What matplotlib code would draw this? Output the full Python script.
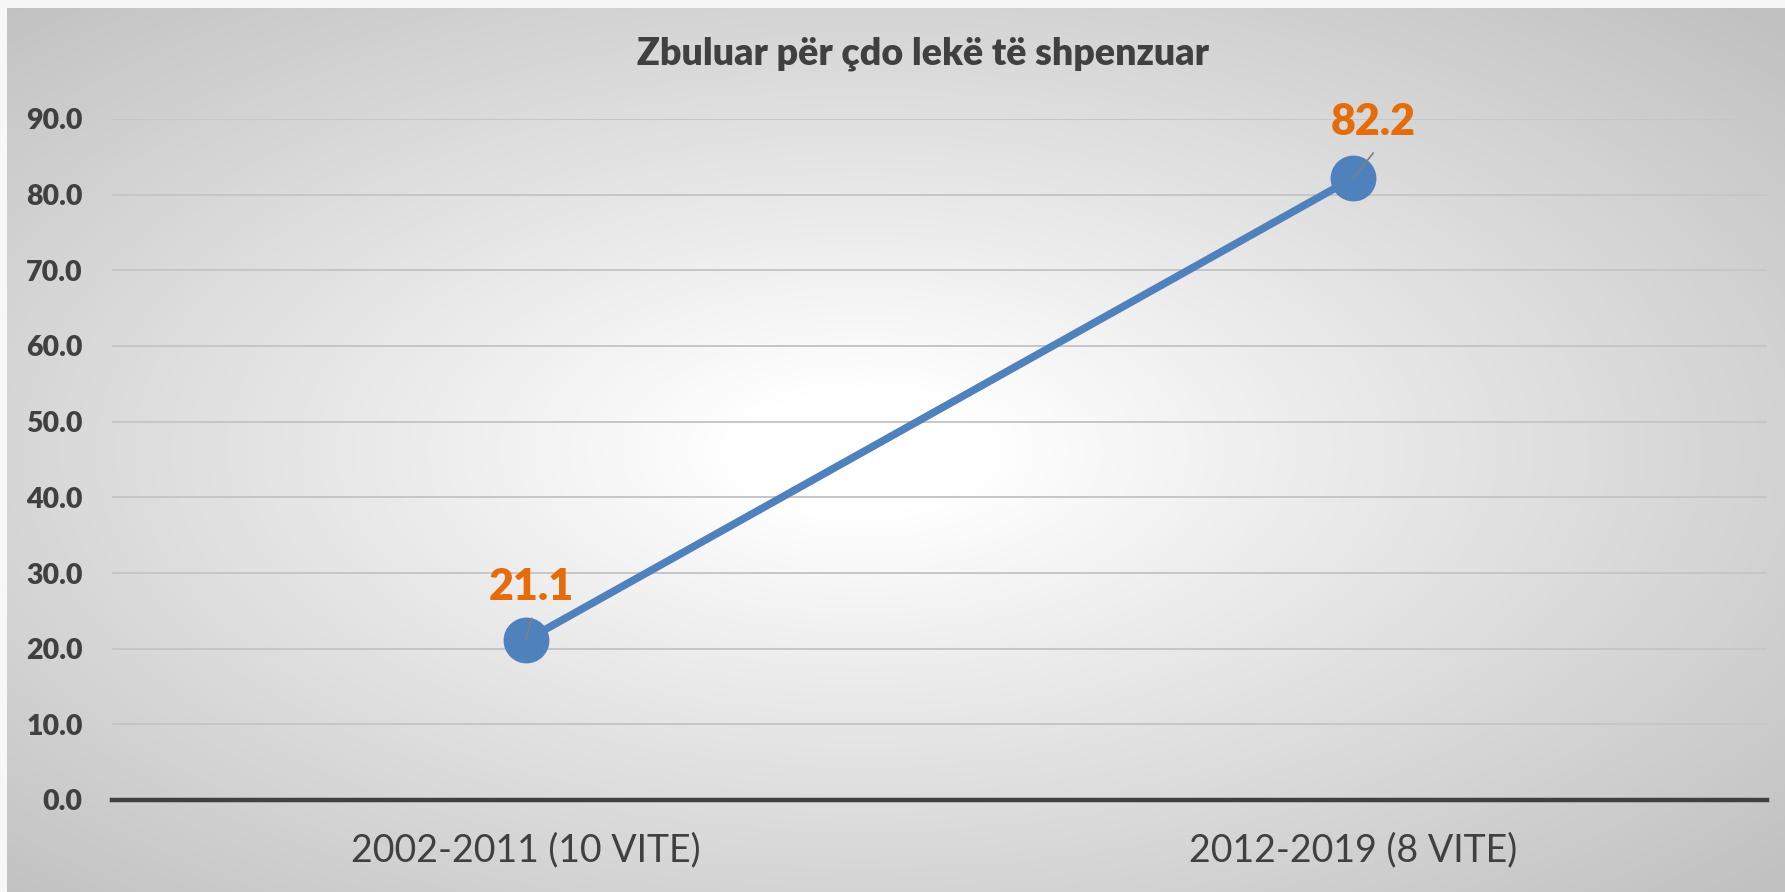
import numpy as np
import matplotlib
matplotlib.use("Agg")
import matplotlib.pyplot as plt

plt.rcParams['font.family'] = ['Lato', 'DejaVu Sans']

periods = ["2002-2011 (10 VITE)", "2012-2019 (8 VITE)"]
values = [21.1, 82.2]
yticks = [0, 10, 20, 30, 40, 50, 60, 70, 80, 90]
title = "Zbuluar për çdo lekë të shpenzuar"

# offsets (pixels) of data labels and leader line ends
label_off = [(6, 53), (20, 56)]
leader_off = [(6, 22), (20, 25)]

txt = "#404040"
blue = "#4f81bd"
orange = "#e46c0a"

fig = plt.figure(figsize=(17.85, 8.92), dpi=100)
fig.patch.set_facecolor("#f7f7f7")

# radial gradient background
bg = fig.add_axes([7 / 1785, 0, 1 - 7 / 1785, 1 - 8 / 892])
bg.set_axis_off()
h, w = 440, 880
yy, xx = np.mgrid[0:h, 0:w]
dx = (xx - w * 0.48) / (w / 2)
dy = (yy - h * 0.50) / (h / 2)
r = np.sqrt(dx ** 2 + dy ** 2) / np.sqrt(2)
g = 255 - 62 * np.clip((r - 0.1) / 0.9, 0, 1) ** 0.95
img = np.dstack([g, g, g]) / 255.0
bg.imshow(img, aspect="auto", extent=[0, 1, 0, 1])

ax = fig.add_axes([112 / 1785, 1 - 800 / 892, (1767 - 112) / 1785, (800 - 119) / 892])
ax.set_facecolor("none")
x = np.arange(len(periods))
ax.plot(x, values, color=blue, lw=5.5, marker="o", markersize=32,
        markerfacecolor=blue, markeredgecolor=blue, zorder=3)

for xi, v, lo, le in zip(x, values, label_off, leader_off):
    ax.annotate(f"{v:.1f}", xy=(xi, v), xytext=lo, textcoords="offset pixels",
                ha="center", va="center", fontsize=31, fontweight="heavy",
                color=orange, zorder=5)
    ax.annotate("", xy=(xi, v), xytext=le, textcoords="offset pixels",
                arrowprops=dict(arrowstyle="-", color="#7f7f7f", lw=1.2,
                                shrinkA=0, shrinkB=0), zorder=5)

ax.set_xlim(-0.5, 1.5)
ax.set_ylim(0, 90)
ax.set_yticks(yticks)
ax.set_yticklabels([f"{t:.1f}" for t in yticks], fontsize=20.5, fontweight="heavy", color=txt)
ax.set_xticks(x)
ax.set_xticklabels(periods, fontsize=27, color=txt)
ax.tick_params(axis="both", length=0)
ax.tick_params(axis="y", pad=21)
ax.tick_params(axis="x", pad=23)

ax.grid(axis="y", color="#c6c6c6", lw=1.4, zorder=0)
ax.set_axisbelow(True)
for s in ["top", "right", "left"]:
    ax.spines[s].set_visible(False)
ax.spines["bottom"].set_color(txt)
ax.spines["bottom"].set_linewidth(3.2)

fig.text(0.517, 1 - 54 / 892, title, ha="center", va="center",
         fontsize=27, fontweight="heavy", color=txt)

fig.savefig("out.png", dpi=100)
